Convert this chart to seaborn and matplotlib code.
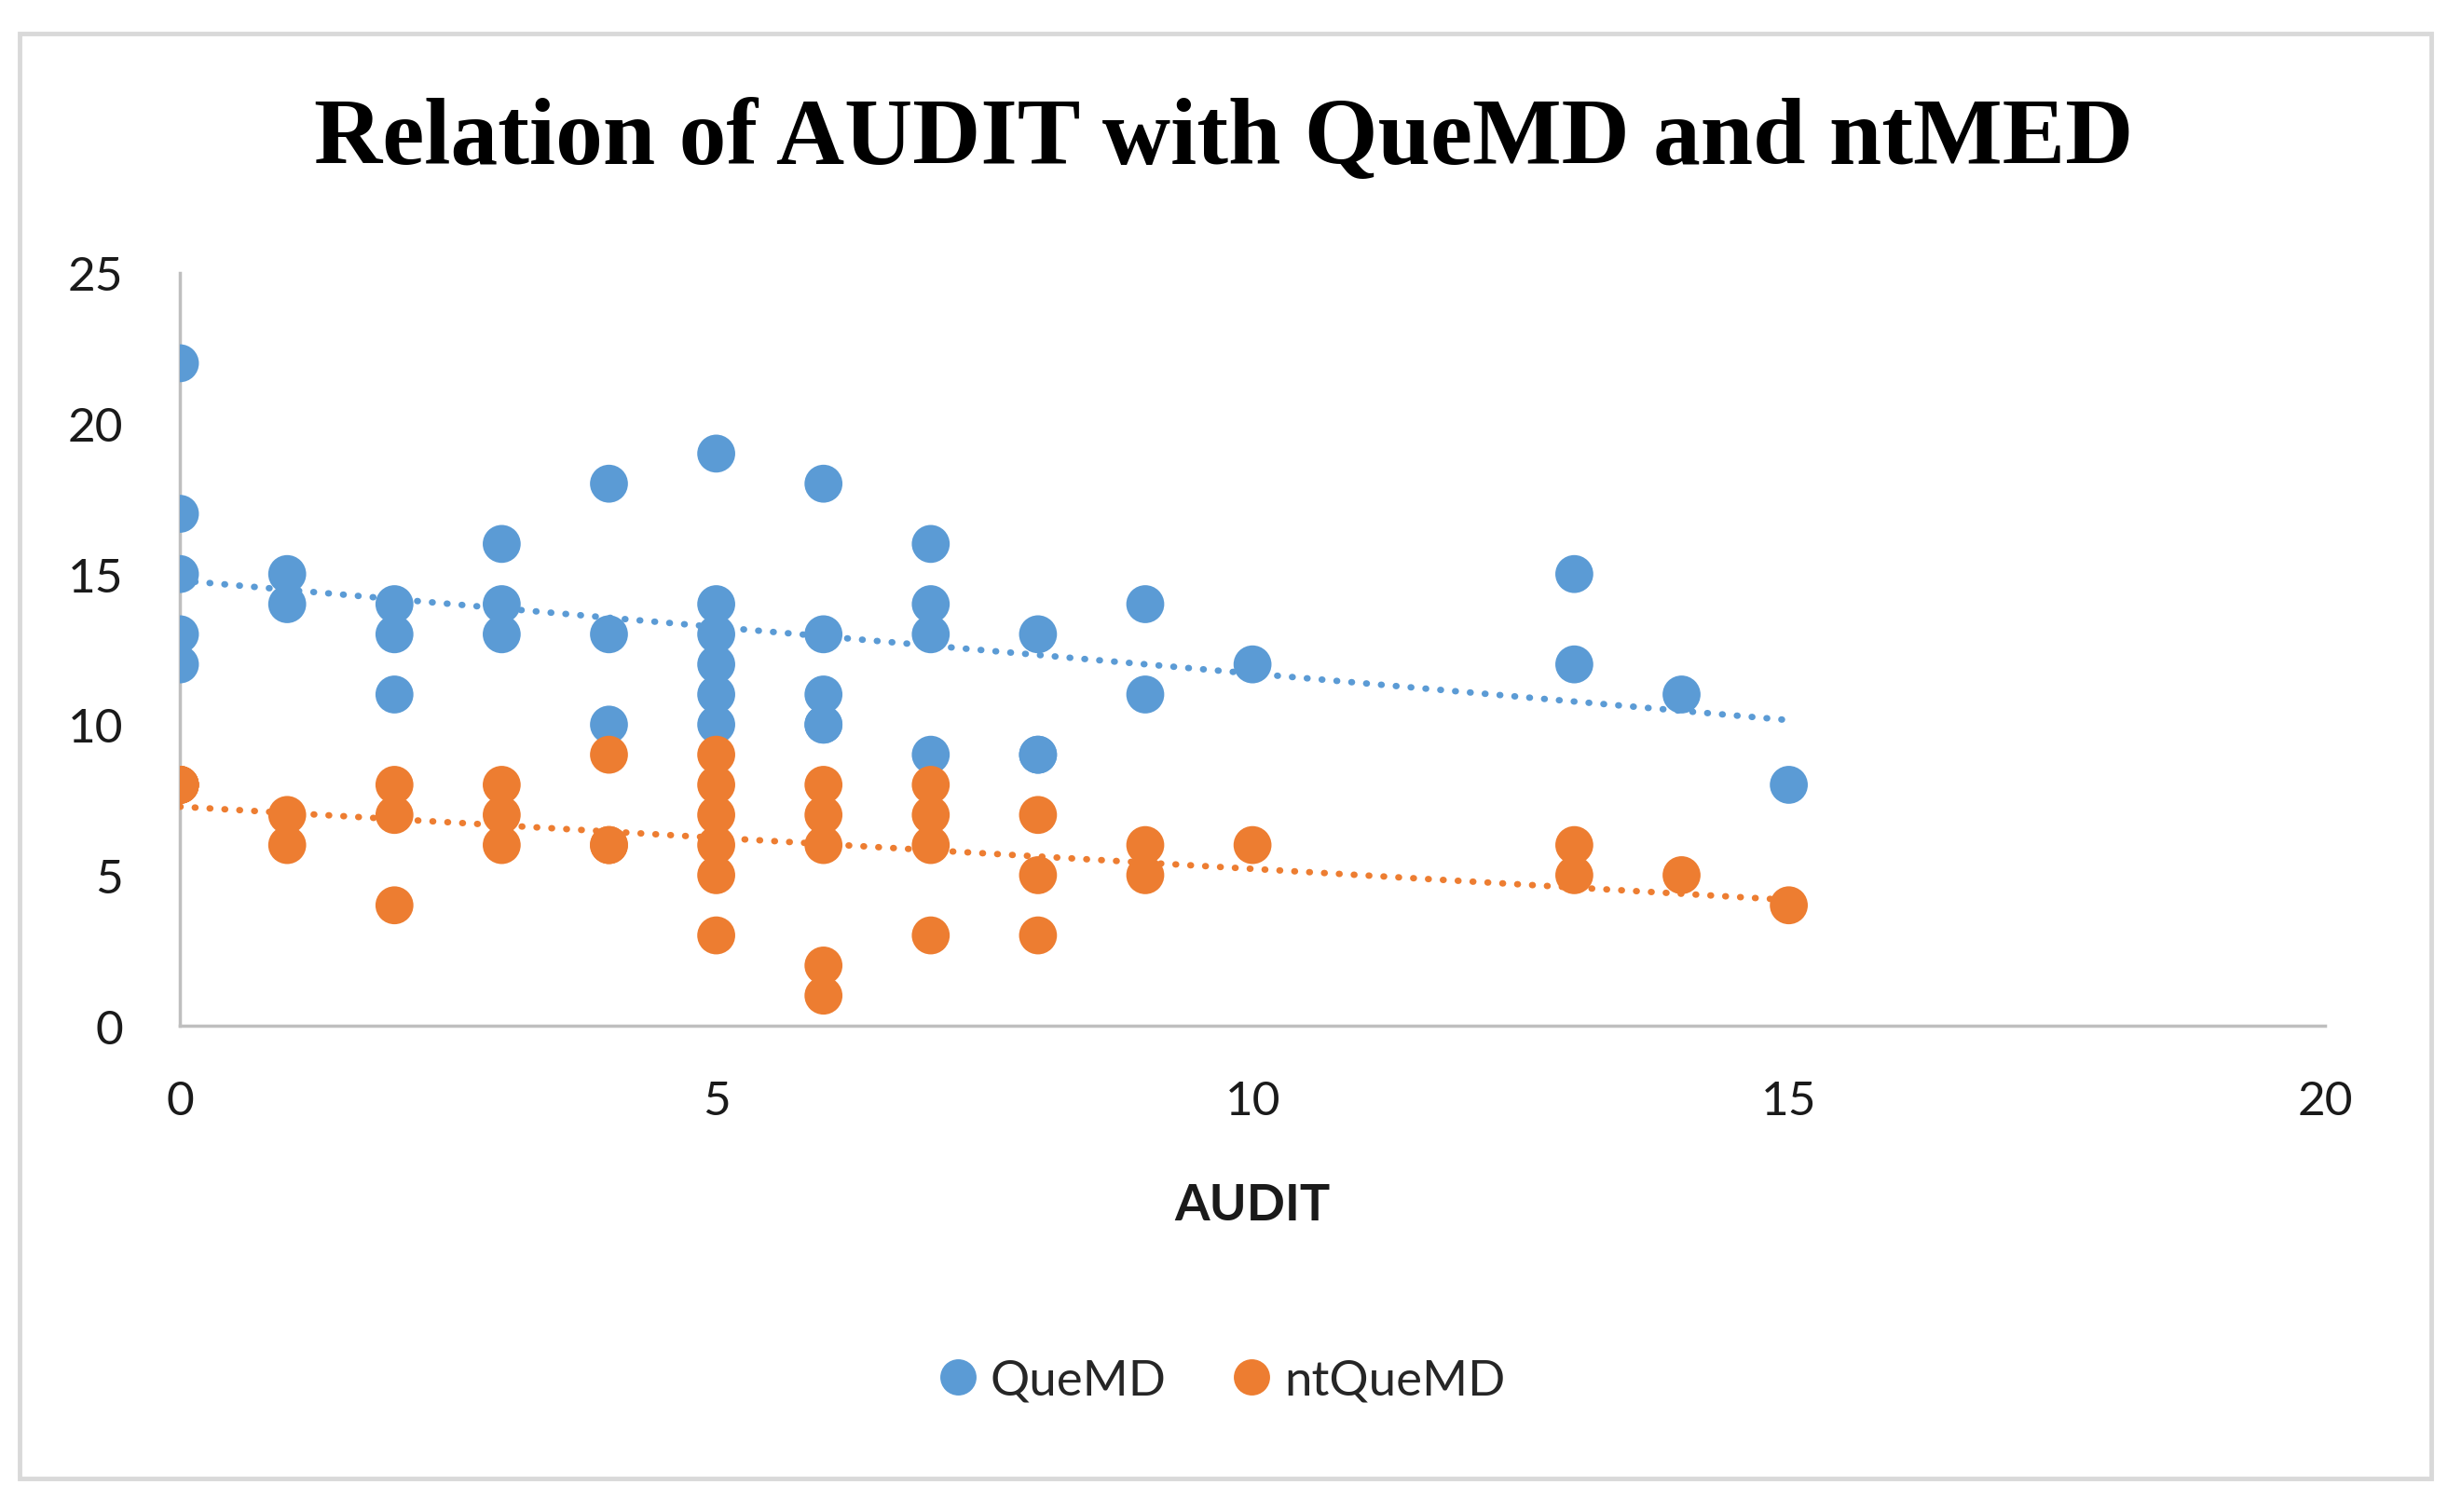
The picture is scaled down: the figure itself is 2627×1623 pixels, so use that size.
import pandas as pd
import matplotlib.pyplot as plt
import seaborn as sns
from matplotlib.patches import Rectangle
from matplotlib.lines import Line2D

# ---- data (paired subjects, overlapping points repeated) ----
audit_que = [0, 0, 0, 0, 0, 1, 1, 2, 2, 2, 3, 3, 3, 4, 4, 4, 5, 5, 5, 5, 5, 5,
             6, 6, 6, 6, 6, 7, 7, 7, 7, 8, 8, 8, 9, 9, 10, 13, 13, 14, 15]
quemd = [22, 17, 15, 13, 12, 15, 14, 14, 13, 11, 16, 14, 13, 18, 13, 10, 19, 14, 13, 12, 11, 10,
         18, 13, 11, 10, 10, 16, 14, 13, 9, 13, 9, 9, 14, 11, 12, 15, 12, 11, 8]

audit_nt = [0, 0, 0, 0, 0, 1, 1, 2, 2, 2, 3, 3, 3, 4, 4, 4, 5, 5, 5, 5, 5, 5,
            6, 6, 6, 6, 6, 7, 7, 7, 7, 8, 8, 8, 9, 9, 10, 13, 13, 14, 15]
ntquemd = [8, 8, 8, 8, 8, 7, 6, 8, 7, 4, 8, 7, 6, 9, 6, 6, 9, 8, 7, 6, 5, 3,
           8, 7, 6, 2, 1, 8, 7, 6, 3, 7, 5, 3, 6, 5, 6, 6, 5, 5, 4]

series_names = ['QueMD', 'ntQueMD']
colors = ['#5B9BD5', '#ED7D31']
x_ticks = [0, 5, 10, 15, 20]
y_ticks = [0, 5, 10, 15, 20, 25]

df = pd.concat([
    pd.DataFrame({'AUDIT': audit_que, 'score': quemd, 'series': series_names[0]}),
    pd.DataFrame({'AUDIT': audit_nt, 'score': ntquemd, 'series': series_names[1]}),
], ignore_index=True)

sns.set_style('white')
plt.rcParams['font.family'] = ['Lato', 'DejaVu Sans']

fig = plt.figure(figsize=(26.27, 16.24), dpi=100)
ax = fig.add_axes([0.0735, 0.3214, 0.8763, 0.4976])

sns.scatterplot(data=df, x='AUDIT', y='score', hue='series', hue_order=series_names,
                palette=colors, s=860, linewidth=0, alpha=1, legend=False, ax=ax, zorder=3)

# dotted linear trendlines, like excel
for name, col in zip(series_names, colors):
    sub = df[df['series'] == name]
    sns.regplot(data=sub, x='AUDIT', y='score', scatter=False, ci=None, color=col, ax=ax,
                line_kws={'linestyle': (0, (0.1, 2.2)), 'linewidth': 5,
                          'dash_capstyle': 'round', 'zorder': 4})

ax.set_xlim(0, 20)
ax.set_ylim(0, 25)
ax.set_xticks(x_ticks)
ax.set_yticks(y_ticks)
ax.tick_params(axis='both', length=0, labelsize=37, colors='#1a1a1a')
ax.tick_params(axis='x', pad=42)
ax.tick_params(axis='y', pad=44)
ax.set_ylabel('')
ax.set_xlabel('AUDIT', fontsize=39, fontweight='bold', color='#1a1a1a')
ax.xaxis.label.set_va('center')
ax.xaxis.set_label_coords(0.5, -0.238)

for side in ['top', 'right']:
    ax.spines[side].set_visible(False)
for side in ['left', 'bottom']:
    ax.spines[side].set_color('#BFBFBF')
    ax.spines[side].set_linewidth(2.5)
ax.spines['left'].set_zorder(1)

fig.text(0.5, 0.907, 'Relation of AUDIT with QueMD and ntMED', ha='center', va='center',
         fontsize=73, fontweight='bold', family='Liberation Serif', color='black')

handles = [Line2D([], [], marker='o', linestyle='', markersize=28, color=c, markeredgewidth=0)
           for c in colors]
fig.legend(handles, series_names, loc='center', bbox_to_anchor=(0.493, 0.087), ncol=2,
           frameon=False, fontsize=38, handletextpad=-0.35, columnspacing=0.75)

# outer chart border
fig.patches.append(Rectangle((0.008, 0.022), 0.985, 0.955, transform=fig.transFigure,
                             fill=False, edgecolor='#D9D9D9', linewidth=3.5))

fig.savefig('out.png', dpi=100)
